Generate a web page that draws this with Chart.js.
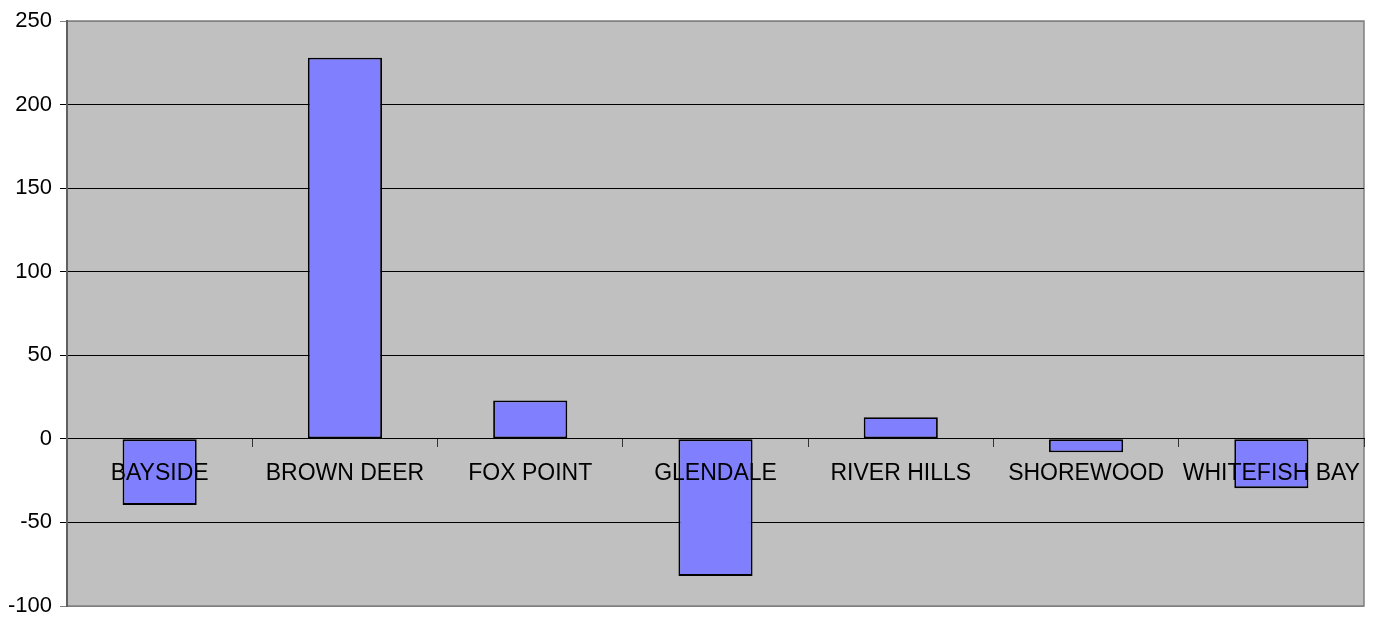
<!DOCTYPE html>
<html>
<head>
<meta charset="utf-8">
<script src="https://cdn.jsdelivr.net/npm/chart.js@4/dist/chart.umd.min.js"></script>
<style>
  html, body { margin: 0; padding: 0; background: #fff; }
  #wrap { width: 1374px; height: 617px; }
</style>
</head>
<body>
<div id="wrap"><canvas id="chart"></canvas></div>
<script>
var towns = ['BAYSIDE', 'BROWN DEER', 'FOX POINT', 'GLENDALE', 'RIVER HILLS', 'SHOREWOOD', 'WHITEFISH BAY'];
var change = [-39.5, 228, 23, -82, 13, -8, -29.5];
var yMin = -100, yMax = 250, yStep = 50;

// grey plot background + frame, like the old spreadsheet chart
var plotBg = {
    id: 'plotBg',
    beforeDraw: function (chart) {
        var a = chart.chartArea, c = chart.ctx;
        c.save();
        c.fillStyle = '#c0c0c0';
        c.fillRect(a.left, a.top, a.right - a.left, a.bottom - a.top);
        c.strokeStyle = '#808080';
        c.lineWidth = 1.5;
        c.strokeRect(a.left, a.top, a.right - a.left, a.bottom - a.top);
        c.restore();
    }
};

var ctx = document.getElementById('chart').getContext('2d');
var barChart = new Chart(ctx, {
    type: 'bar',
    data: {
        labels: towns,
        datasets: [{
            data: change,
            backgroundColor: '#8080ff',
            borderColor: '#000',
            borderWidth: 1.8,
            borderSkipped: false,
            categoryPercentage: 1,
            barPercentage: 0.4
        }]
    },
    options: {
        responsive: true,
        maintainAspectRatio: false,
        animation: false,
        layout: { padding: { top: 21, right: 10, bottom: 11, left: 0 } },
        plugins: {
            legend: { display: false },
            tooltip: { enabled: false }
        },
        scales: {
            x: {
                position: { y: 0 },
                offset: true,
                afterFit: function (scale) { scale.height = 0; scale.paddingBottom = 0; scale.paddingTop = 0; },
                grid: { drawOnChartArea: false, offset: true, tickLength: 8, color: '#333' },
                border: { color: '#000', width: 1 },
                ticks: {
                    z: 1,
                    padding: 13,
                    color: '#000',
                    maxRotation: 0,
                    autoSkip: false,
                    font: { family: "'Liberation Sans', Arial, sans-serif", size: 23 }
                }
            },
            y: {
                min: yMin,
                max: yMax,
                afterFit: function (scale) { scale.width = 67; scale.paddingBottom = 0; scale.paddingTop = 0; },
                grid: {
                    tickLength: 7,
                    color: function (c) {
                        return (c.tick && (c.tick.value === yMax || c.tick.value === yMin)) ? '#808080' : '#000';
                    }
                },
                border: { color: '#606060', width: 2 },
                ticks: {
                    stepSize: yStep,
                    padding: 8,
                    color: '#000',
                    font: { family: "'Liberation Sans', Arial, sans-serif", size: 22 }
                }
            }
        }
    },
    plugins: [plotBg]
});
</script>
</body>
</html>
